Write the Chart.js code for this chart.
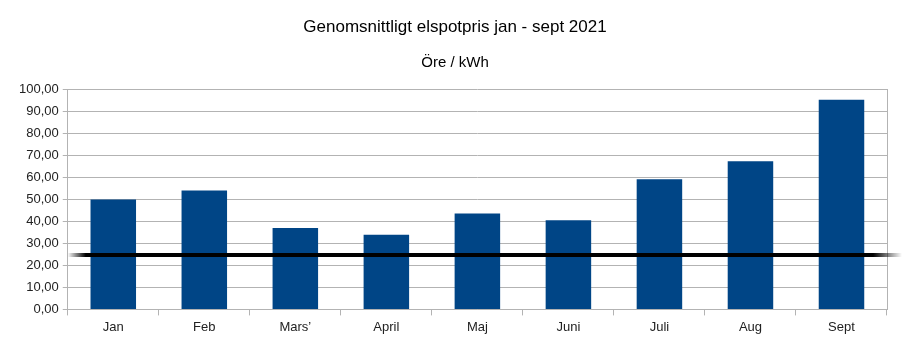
<!DOCTYPE html>
<html>
<head>
<meta charset="utf-8">
<script src="https://cdn.jsdelivr.net/npm/chart.js@4.4.0/dist/chart.umd.min.js"></script>
<style>
    html, body { margin: 0; padding: 0; background: #fff; }
    #wrap { width: 905px; height: 340px; }
</style>
</head>
<body>
<div id="wrap"><canvas id="priceChart"></canvas></div>
<script>
// Monthly average spot price, öre/kWh
const months = ['Jan', 'Feb', 'Mars\u2019', 'April', 'Maj', 'Juni', 'Juli', 'Aug', 'Sept'];
const prices = [49.9, 54.0, 37.0, 33.9, 43.6, 40.5, 59.2, 67.3, 95.3];
const referenceLevel = [24.7];
const yTicks = [0, 10, 20, 30, 40, 50, 60, 70, 80, 90, 100];

Chart.defaults.font.family = '"Liberation Sans", Arial, sans-serif';
Chart.defaults.color = '#222';

const fmt = v => v.toFixed(2).replace('.', ',');

// Thick black level line across the plot, fading out at both ends
const levelLine = {
    id: 'levelLine',
    afterDatasetsDraw(chart) {
        const { ctx, chartArea, scales } = chart;
        const y = scales.y.getPixelForValue(referenceLevel[0]);
        const x0 = chartArea.left;
        const x1 = chartArea.right + 15;
        const g = ctx.createLinearGradient(x0, 0, x1, 0);
        const fade = 18 / (x1 - x0);
        g.addColorStop(0, 'rgba(0,0,0,0)');
        g.addColorStop(fade, 'rgba(0,0,0,1)');
        g.addColorStop(1 - fade * 1.6, 'rgba(0,0,0,1)');
        g.addColorStop(1, 'rgba(0,0,0,0)');
        ctx.save();
        ctx.strokeStyle = g;
        ctx.lineWidth = 4;
        ctx.beginPath();
        ctx.moveTo(x0, y);
        ctx.lineTo(x1, y);
        ctx.stroke();
        ctx.restore();
    }
};

new Chart(document.getElementById('priceChart'), {
    type: 'bar',
    data: {
        labels: months,
        datasets: [{
            data: prices,
            backgroundColor: '#004586',
            borderWidth: 0,
            barPercentage: 0.5,
            categoryPercentage: 1.0
        }]
    },
    options: {
        responsive: true,
        maintainAspectRatio: false,
        animation: false,
        layout: { padding: { left: 15, right: 10, top: 0, bottom: 1 } },
        scales: {
            x: {
                offset: true,
                grid: {
                    offset: true,
                    drawOnChartArea: false,
                    drawTicks: true,
                    tickLength: 6,
                    color: '#b3b3b3'
                },
                border: { color: '#b3b3b3' },
                ticks: { font: { size: 13 }, padding: 4 }
            },
            y: {
                min: 0,
                max: 100,
                afterBuildTicks: axis => {
                    axis.ticks = yTicks.map(v => ({ value: v }));
                },
                grid: { color: '#b3b3b3', tickLength: 5 },
                border: { color: '#b3b3b3' },
                ticks: {
                    font: { size: 13 },
                    padding: 4,
                    callback: v => fmt(v)
                }
            },
            y2: {
                position: 'right',
                min: 0,
                max: 100,
                grid: { display: false },
                border: { color: '#b3b3b3' },
                ticks: { display: false }
            }
        },
        plugins: {
            legend: { display: false },
            tooltip: { enabled: false },
            title: {
                display: true,
                text: 'Genomsnittligt elspotpris jan - sept 2021',
                color: '#000',
                font: { size: 17, weight: 'normal' },
                padding: { top: 17, bottom: 14 }
            },
            subtitle: {
                display: true,
                text: 'Öre / kWh',
                color: '#000',
                font: { size: 15, weight: 'normal' },
                padding: { top: 2, bottom: 18 }
            }
        }
    },
    plugins: [levelLine]
});
</script>
</body>
</html>
